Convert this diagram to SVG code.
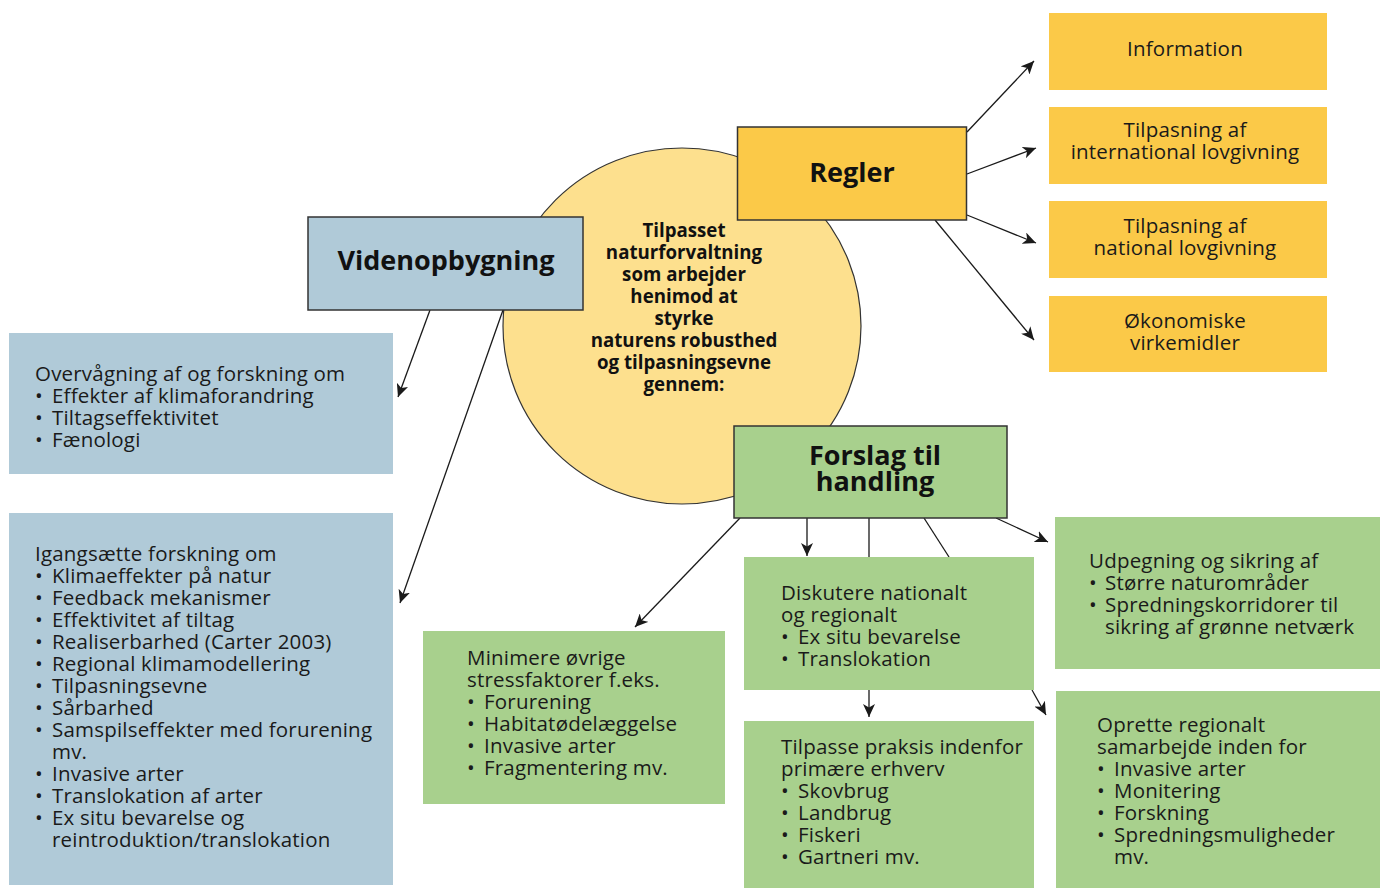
<svg xmlns="http://www.w3.org/2000/svg" width="1380" height="890" viewBox="0 0 1380 890">
  <defs>
    <marker id="arrow" markerUnits="userSpaceOnUse" markerWidth="14" markerHeight="12" refX="13" refY="6" orient="auto">
      <path d="M0,0 L13,6 L0,12 L3.5,6 Z" fill="#1a1a1a"/>
    </marker>
    <style>
      .t { font-family: "Open Sans", "Noto Sans", "DejaVu Sans", sans-serif; font-size: 20.5px; letter-spacing: 0.2px; fill: #1a1a1a; }
      .c { text-anchor: middle; }
      .h { font-family: "Open Sans", "Noto Sans", "DejaVu Sans", sans-serif; font-weight: 700; font-size: 27px; fill: #111; text-anchor: middle; }
      .ct { font-family: "Open Sans", "Noto Sans", "DejaVu Sans", sans-serif; font-weight: 700; font-size: 18.7px; fill: #111; text-anchor: middle; }
      .blue { fill: #B0CAD8; }
      .gold { fill: #FBC948; }
      .green { fill: #A8D08D; }
      .frame { stroke: #333; stroke-width: 1.5; }
      .ln { stroke: #1a1a1a; stroke-width: 1.3; fill: none; }
      .arr { marker-end: url(#arrow); }
    </style>
  </defs>

  <rect width="1380" height="890" fill="#fff"/>

  <!-- central theme -->
  <g id="center">
    <ellipse cx="682" cy="326" rx="179" ry="178" fill="#FDE08E" stroke="#333" stroke-width="1.2"/>
    <text class="ct" x="684" y="237">Tilpasset<tspan x="684" dy="22">naturforvaltning</tspan><tspan x="684" dy="22">som arbejder</tspan><tspan x="684" dy="22">henimod at</tspan><tspan x="684" dy="22">styrke</tspan><tspan x="684" dy="22">naturens robusthed</tspan><tspan x="684" dy="22">og tilpasningsevne</tspan><tspan x="684" dy="22">gennem:</tspan></text>
  </g>

  <!-- connectors -->
  <g id="connectors">
    <line class="ln arr" x1="967" y1="132" x2="1034" y2="61"/>
    <line class="ln arr" x1="967" y1="174" x2="1036" y2="148"/>
    <line class="ln arr" x1="967" y1="215" x2="1036" y2="243"/>
    <line class="ln arr" x1="935" y1="220" x2="1034" y2="340"/>
    <line class="ln arr" x1="430" y1="310" x2="398" y2="397"/>
    <line class="ln arr" x1="503" y1="310" x2="400" y2="603"/>
    <line class="ln arr" x1="740" y1="518" x2="635" y2="627"/>
    <line class="ln arr" x1="807" y1="518" x2="807" y2="556"/>
    <line class="ln" x1="869" y1="518" x2="869" y2="557"/>
    <line class="ln" x1="924" y1="518" x2="949" y2="557"/>
    <line class="ln arr" x1="996" y1="518" x2="1048" y2="542"/>
    <line class="ln arr" x1="869" y1="690" x2="869" y2="717"/>
    <line class="ln arr" x1="1032" y1="690" x2="1046" y2="715"/>
  </g>

  <!-- knowledge building -->
  <g id="videnopbygning">
    <rect class="blue frame" x="308" y="217" width="275" height="93"/>
    <text class="h" x="446" y="270">Videnopbygning</text>
  </g>

  <g id="overvaagning">
    <rect class="blue" x="9" y="333" width="384" height="141"/>
    <text class="t" x="35" y="381">Overvågning af og forskning om<tspan x="35" dy="22">•</tspan><tspan x="52">Effekter af klimaforandring</tspan><tspan x="35" dy="22">•</tspan><tspan x="52">Tiltagseffektivitet</tspan><tspan x="35" dy="22">•</tspan><tspan x="52">Fænologi</tspan></text>
  </g>

  <g id="igangsaette">
    <rect class="blue" x="9" y="513" width="384" height="372"/>
    <text class="t" x="35" y="561">Igangsætte forskning om<tspan x="35" dy="22">•</tspan><tspan x="52">Klimaeffekter på natur</tspan><tspan x="35" dy="22">•</tspan><tspan x="52">Feedback mekanismer</tspan><tspan x="35" dy="22">•</tspan><tspan x="52">Effektivitet af tiltag</tspan><tspan x="35" dy="22">•</tspan><tspan x="52">Realiserbarhed (Carter 2003)</tspan><tspan x="35" dy="22">•</tspan><tspan x="52">Regional klimamodellering</tspan><tspan x="35" dy="22">•</tspan><tspan x="52">Tilpasningsevne</tspan><tspan x="35" dy="22">•</tspan><tspan x="52">Sårbarhed</tspan><tspan x="35" dy="22">•</tspan><tspan x="52">Samspilseffekter med forurening</tspan><tspan x="52" dy="22">mv.</tspan><tspan x="35" dy="22">•</tspan><tspan x="52">Invasive arter</tspan><tspan x="35" dy="22">•</tspan><tspan x="52">Translokation af arter</tspan><tspan x="35" dy="22">•</tspan><tspan x="52">Ex situ bevarelse og</tspan><tspan x="52" dy="22">reintroduktion/translokation</tspan></text>
  </g>

  <!-- rules -->
  <g id="regler">
    <rect class="gold frame" x="737.5" y="127" width="229" height="93"/>
    <text class="h" x="852" y="182">Regler</text>
  </g>

  <g id="information">
    <rect class="gold" x="1049" y="13" width="278" height="77"/>
    <text class="t c" x="1185" y="56">Information</text>
  </g>

  <g id="international">
    <rect class="gold" x="1049" y="107" width="278" height="77"/>
    <text class="t c" x="1185" y="137">Tilpasning af<tspan x="1185" dy="22">international lovgivning</tspan></text>
  </g>

  <g id="national">
    <rect class="gold" x="1049" y="201" width="278" height="77"/>
    <text class="t c" x="1185" y="233">Tilpasning af<tspan x="1185" dy="22">national lovgivning</tspan></text>
  </g>

  <g id="oekonomiske">
    <rect class="gold" x="1049" y="296" width="278" height="76"/>
    <text class="t c" x="1185" y="328">Økonomiske<tspan x="1185" dy="22">virkemidler</tspan></text>
  </g>

  <!-- proposals for action -->
  <g id="forslag">
    <rect class="green frame" x="734" y="426" width="273" height="92"/>
    <text class="h" x="875" y="465">Forslag til<tspan x="875" dy="26">handling</tspan></text>
  </g>

  <g id="minimere">
    <rect class="green" x="423" y="631" width="302" height="173"/>
    <text class="t" x="467" y="665">Minimere øvrige<tspan x="467" dy="22">stressfaktorer f.eks.</tspan><tspan x="467" dy="22">•</tspan><tspan x="484">Forurening</tspan><tspan x="467" dy="22">•</tspan><tspan x="484">Habitatødelæggelse</tspan><tspan x="467" dy="22">•</tspan><tspan x="484">Invasive arter</tspan><tspan x="467" dy="22">•</tspan><tspan x="484">Fragmentering mv.</tspan></text>
  </g>

  <g id="diskutere">
    <rect class="green" x="744" y="557" width="290" height="133"/>
    <text class="t" x="781" y="600">Diskutere nationalt<tspan x="781" dy="22">og regionalt</tspan><tspan x="781" dy="22">•</tspan><tspan x="798">Ex situ bevarelse</tspan><tspan x="781" dy="22">•</tspan><tspan x="798">Translokation</tspan></text>
  </g>

  <g id="tilpasse">
    <rect class="green" x="744" y="721" width="290" height="167"/>
    <text class="t" x="781" y="754">Tilpasse praksis indenfor<tspan x="781" dy="22">primære erhverv</tspan><tspan x="781" dy="22">•</tspan><tspan x="798">Skovbrug</tspan><tspan x="781" dy="22">•</tspan><tspan x="798">Landbrug</tspan><tspan x="781" dy="22">•</tspan><tspan x="798">Fiskeri</tspan><tspan x="781" dy="22">•</tspan><tspan x="798">Gartneri mv.</tspan></text>
  </g>

  <g id="udpegning">
    <rect class="green" x="1055" y="517" width="325" height="152"/>
    <text class="t" x="1089" y="568">Udpegning og sikring af<tspan x="1089" dy="22">•</tspan><tspan x="1105">Større naturområder</tspan><tspan x="1089" dy="22">•</tspan><tspan x="1105">Spredningskorridorer til</tspan><tspan x="1105" dy="22">sikring af grønne netværk</tspan></text>
  </g>

  <g id="oprette">
    <rect class="green" x="1056" y="691" width="324" height="197"/>
    <text class="t" x="1097" y="732">Oprette regionalt<tspan x="1097" dy="22">samarbejde inden for</tspan><tspan x="1097" dy="22">•</tspan><tspan x="1114">Invasive arter</tspan><tspan x="1097" dy="22">•</tspan><tspan x="1114">Monitering</tspan><tspan x="1097" dy="22">•</tspan><tspan x="1114">Forskning</tspan><tspan x="1097" dy="22">•</tspan><tspan x="1114">Spredningsmuligheder</tspan><tspan x="1114" dy="22">mv.</tspan></text>
  </g>
</svg>
